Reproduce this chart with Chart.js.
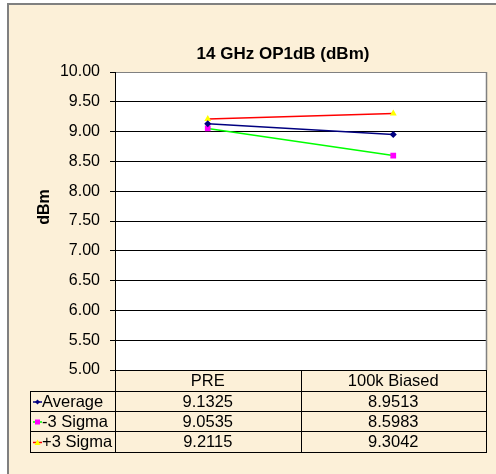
<!DOCTYPE html>
<html>
<head>
<meta charset="utf-8">
<script src="https://cdn.jsdelivr.net/npm/chart.js@4"></script>
<style>
  html, body { margin: 0; padding: 0; background: #fff; }
  #wrap { width: 496px; height: 474px; }
</style>
</head>
<body>
<div id="wrap"><canvas id="c" width="496" height="474"></canvas></div>
<script>
var categories = ["PRE", "100k Biased"];
var average = [9.1325, 8.9513];
var minus3Sigma = [9.0535, 8.5983];
var plus3Sigma = [9.2115, 9.3042];
var seriesNames = ["Average", "-3 Sigma", "+3 Sigma"];
var valueLabels = [
  ["9.1325", "8.9513"],
  ["9.0535", "8.5983"],
  ["9.2115", "9.3042"]
];

var FONT = "'Liberation Sans', Arial, sans-serif";
var PAPER = "#fcf0d8";

// parchment frame, white plot area and the titles
var framePlugin = {
  id: "frame",
  beforeDraw: function (chart) {
    var ctx = chart.ctx, a = chart.chartArea;
    ctx.save();
    ctx.fillStyle = "#fff";
    ctx.fillRect(0, 0, chart.width, chart.height);
    ctx.fillStyle = PAPER;
    ctx.fillRect(8, 4, chart.width - 8, chart.height - 4);
    ctx.fillStyle = "#808080";
    ctx.fillRect(7, 3, chart.width - 7, 2);
    ctx.fillRect(7, 3, 2, chart.height - 3);
    ctx.fillStyle = "#fff";
    ctx.fillRect(a.left, a.top, a.right - a.left, a.bottom - a.top);

    ctx.fillStyle = "#000";
    ctx.font = "bold 17px " + FONT;
    ctx.textAlign = "center";
    ctx.textBaseline = "middle";
    ctx.fillText("14 GHz OP1dB (dBm)", 283, 54);
    ctx.font = "bold 16px " + FONT;
    ctx.translate(45, 207);
    ctx.rotate(-Math.PI / 2);
    ctx.fillText("dBm", 0, 0);
    ctx.restore();
  },
  afterDatasetsDraw: function (chart) {
    var ctx = chart.ctx, a = chart.chartArea;
    ctx.save();
    ctx.strokeStyle = "#808080";
    ctx.lineWidth = 1.5;
    ctx.beginPath();
    ctx.moveTo(a.right + 0.5, a.top);
    ctx.lineTo(a.right + 0.5, a.bottom);
    ctx.stroke();
    ctx.restore();
  }
};

// Excel-style data table under the plot
var tablePlugin = {
  id: "dataTable",
  afterDraw: function (chart) {
    var ctx = chart.ctx, a = chart.chartArea, x = chart.scales.x;
    var mid = (x.getPixelForValue(0) + x.getPixelForValue(1)) / 2;
    var legendLeft = 30;
    var rows = [a.bottom, 391, 411, 431, 452];
    ctx.save();
    ctx.strokeStyle = "#000";
    ctx.lineWidth = 1;
    ctx.beginPath();
    for (var i = 1; i < rows.length; i++) {
      ctx.moveTo(legendLeft, Math.round(rows[i]) + 0.5);
      ctx.lineTo(a.right + 1, Math.round(rows[i]) + 0.5);
    }
    ctx.moveTo(a.left + 0.5, rows[0]); ctx.lineTo(a.left + 0.5, rows[4]);
    ctx.moveTo(Math.round(mid) + 0.5, rows[0]); ctx.lineTo(Math.round(mid) + 0.5, rows[4]);
    ctx.moveTo(a.right + 0.5, rows[0]); ctx.lineTo(a.right + 0.5, rows[4] + 1);
    ctx.moveTo(legendLeft + 0.5, rows[1]); ctx.lineTo(legendLeft + 0.5, rows[4] + 1);
    ctx.stroke();

    ctx.fillStyle = "#000";
    ctx.font = "16.5px " + FONT;
    ctx.textBaseline = "middle";
    ctx.textAlign = "center";
    categories.forEach(function (c, j) {
      ctx.fillText(c, x.getPixelForValue(j), (rows[0] + rows[1]) / 2 + 1);
    });
    chart.data.datasets.forEach(function (ds, r) {
      var cy = (rows[r + 1] + rows[r + 2]) / 2 + 1;
      ctx.textAlign = "center";
      ctx.fillStyle = "#000";
      valueLabels[r].forEach(function (v, j) {
        ctx.fillText(v, x.getPixelForValue(j), cy);
      });
      // legend key
      ctx.strokeStyle = ds.borderColor;
      ctx.lineWidth = 1.5;
      ctx.beginPath();
      ctx.moveTo(33, cy); ctx.lineTo(42, cy);
      ctx.stroke();
      ctx.fillStyle = ds.pointBackgroundColor;
      if (ds.pointStyle === "rect") {
        ctx.fillRect(35, cy - 2.5, 5, 5);
      } else if (ds.pointStyle === "triangle") {
        ctx.beginPath();
        ctx.moveTo(37.5, cy - 3); ctx.lineTo(40.5, cy + 2.5); ctx.lineTo(34.5, cy + 2.5);
        ctx.closePath(); ctx.fill();
      } else {
        ctx.beginPath();
        ctx.moveTo(37.5, cy - 2.5); ctx.lineTo(40, cy); ctx.lineTo(37.5, cy + 2.5); ctx.lineTo(35, cy);
        ctx.closePath(); ctx.fill();
      }
      ctx.fillStyle = "#000";
      ctx.textAlign = "left";
      ctx.fillText(ds.label, 42, cy);
    });
    ctx.restore();
  }
};

new Chart(document.getElementById("c"), {
  type: "line",
  data: {
    labels: categories,
    datasets: [
      {
        label: seriesNames[0], data: average,
        borderColor: "#000080", backgroundColor: "#000080",
        pointStyle: "rectRot", pointRadius: 2.5,
        pointBackgroundColor: "#000080", pointBorderColor: "#000080",
        borderWidth: 1.5, tension: 0
      },
      {
        label: seriesNames[1], data: minus3Sigma,
        borderColor: "#00ff00", backgroundColor: "#ff00ff",
        pointStyle: "rect", pointRadius: 3,
        pointBackgroundColor: "#ff00ff", pointBorderColor: "#ff00ff",
        borderWidth: 1.5, tension: 0
      },
      {
        label: seriesNames[2], data: plus3Sigma,
        borderColor: "#ff0000", backgroundColor: "#ffff00",
        pointStyle: "triangle", pointRadius: 2.5,
        pointBackgroundColor: "#ffff00", pointBorderColor: "#ffff00",
        borderWidth: 1.5, tension: 0
      }
    ]
  },
  options: {
    responsive: false,
    animation: false,
    devicePixelRatio: 1,
    layout: { padding: { left: 0, right: 10, top: 72, bottom: 104 } },
    plugins: {
      legend: { display: false },
      title: { display: false },
      tooltip: { enabled: false }
    },
    scales: {
      x: {
        display: false,
        offset: true
      },
      y: {
        min: 5,
        max: 10,
        afterFit: function (scale) { scale.width = 115; },
        ticks: {
          stepSize: 0.5,
          padding: 10,
          color: "#000",
          font: { family: FONT, size: 16 },
          callback: function (v) { return Number(v).toFixed(2); }
        },
        grid: {
          color: function (c) { return c.tick && c.tick.value === 10 ? "#808080" : "#000"; },
          tickColor: "#000",
          tickLength: 5,
          lineWidth: 1
        },
        border: { display: true, color: "#000", width: 1 }
      }
    }
  },
  plugins: [framePlugin, tablePlugin]
});
</script>
</body>
</html>
